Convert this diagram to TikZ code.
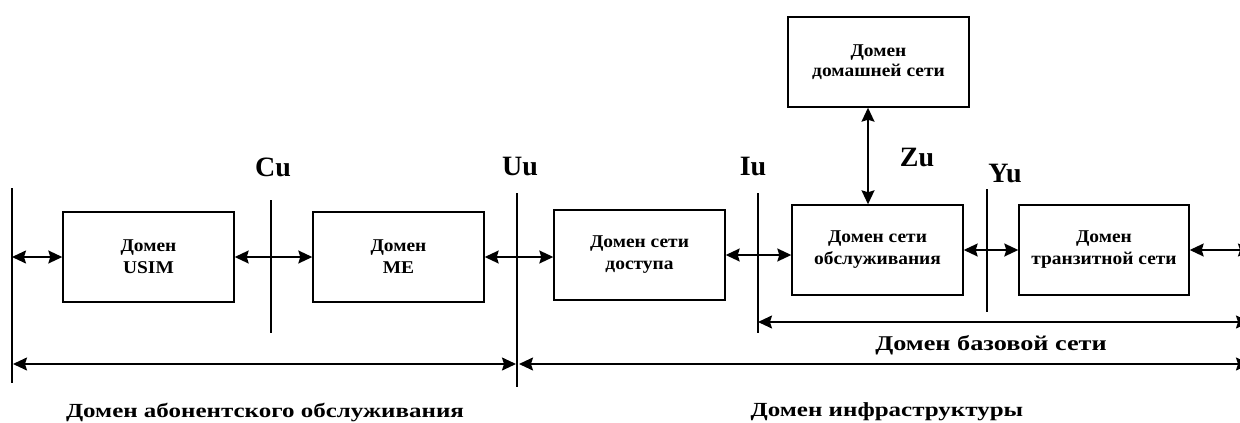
\documentclass[tikz,border=0pt]{standalone}
\usepackage{fontspec}
\setmainfont{Liberation Serif}
\newfontfamily\boxfont{Liberation Serif}[FakeStretch=1.08]
\newfontfamily\widefont{Liberation Serif}[FakeStretch=1.25]
\usetikzlibrary{arrows.meta}
\begin{document}
\begin{tikzpicture}[x=1pt,y=-1pt,
  dom/.style={draw, line width=1.4pt, minimum width=171pt, minimum height=90pt,
    inner sep=0pt, align=center, font=\boxfont\bfseries\fontsize{18}{22}\selectfont},
  sep/.style={line width=1.4pt},
  tip/.tip={Stealth[length=14pt,width=13pt,inset=2pt]},
  link/.style={line width=1.6pt, tip-tip},
  iface/.style={font=\bfseries\fontsize{28}{30}\selectfont},
  span/.style={font=\widefont\bfseries\fontsize{20}{24}\selectfont}]
\useasboundingbox (0,0) rectangle (1240,423);

% domains
\node[dom] (usim) at (148.5,257) {Домен\\USIM};
\node[dom] (me)   at (398.5,257) {Домен\\ME};
\node[dom] (acc)  at (639.5,255) {Домен сети\\доступа};
\node[dom] (srv)  at (877.5,250) {Домен сети\\обслуживания};
\node[dom, minimum width=170pt] (tr) at (1104,250) {Домен\\транзитной сети};
\node[dom, minimum width=181pt, font=\boxfont\bfseries\fontsize{18}{20}\selectfont]
  (home) at (878.5,62) {Домен\\домашней сети};

% reference-point separators
\coordinate (l0t) at (12,188);  \coordinate (l0b) at (12,383);
\coordinate (cut) at (271,200); \coordinate (cub) at (271,333);
\coordinate (uut) at (517,193); \coordinate (uub) at (517,387);
\coordinate (iut) at (758,193); \coordinate (iub) at (758,333);
\coordinate (yut) at (987,189); \coordinate (yub) at (987,312);
\foreach \a/\b in {l0t/l0b, cut/cub, uut/uub, iut/iub, yut/yub}
  \draw[sep] (\a) -- (\b);

% interface labels
\node[iface] (cu) at (273,167) {Cu};
\node[iface] (uu) at (520,167) {Uu};
\node[iface] (iu) at (753,167) {Iu};
\node[iface] (zu) at (917,158) {Zu};
\node[iface] (yu) at (1005,174) {Yu};

% links between domains
\draw[link] (l0t |- usim.west) -- (usim.west);
\draw[link] (usim.east) -- (me.west);
\draw[link] (me.east) -- (me.east -| acc.west);
\draw[link] (acc.east) -- (acc.east -| srv.west);
\draw[link] (srv.east) -- (tr.west);
\coordinate (redge) at (1252,250);
\draw[link] (tr.east) -- (redge);
\coordinate (zx) at (868,0);
\draw[link] (home.south -| zx) -- (srv.north -| zx);

% spans
\coordinate (cnR) at (1250,322);
\draw[link] (iut |- cnR) -- (cnR);
\node[span, font=\widefont\bfseries\fontsize{21}{24}\selectfont] (cn) at (991,345) {Домен базовой сети};

\coordinate (botL) at (13,364);
\coordinate (botM) at (516,364);
\coordinate (botN) at (519,364);
\coordinate (botR) at (1250,364);
\draw[link] (botL) -- (botM);
\draw[link] (botN) -- (botR);
\node[span] (subs)  at (265,412) {Домен абонентского обслуживания};
\node[span] (infra) at (887,412) {Домен инфраструктуры};
\end{tikzpicture}
\end{document}
